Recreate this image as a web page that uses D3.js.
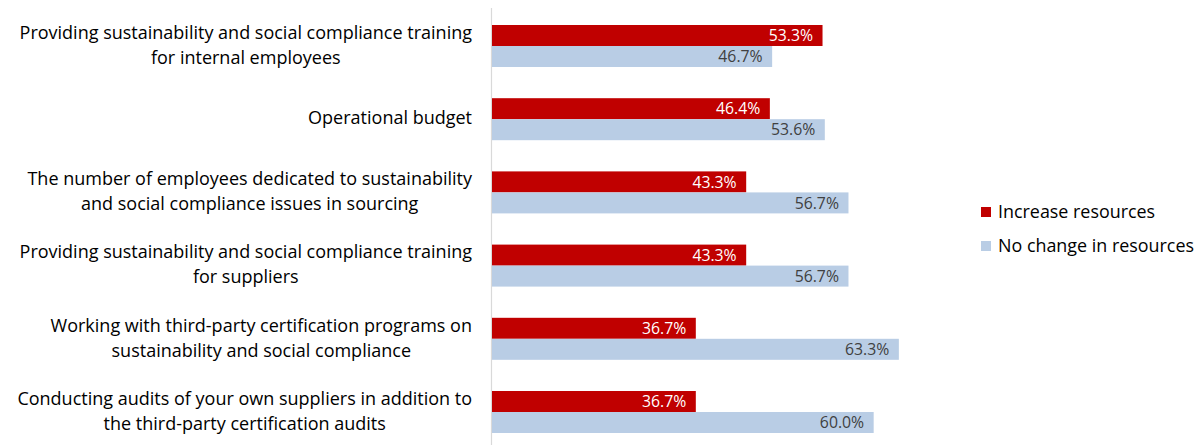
<!DOCTYPE html>
<html><head><meta charset="utf-8">
<script src="https://cdn.jsdelivr.net/npm/d3@7"></script>
<style>body{margin:0;background:#fff;} svg{display:block;}</style>
</head><body>
<svg id="chart" width="1198" height="445"></svg>
<script>
const categories = [
  ["Providing sustainability and social compliance training", "for internal employees"],
  ["Operational budget "],
  ["The number of employees dedicated to sustainability", "and social compliance issues in sourcing"],
  ["Providing sustainability and social compliance training", "for suppliers"],
  ["Working with third-party certification programs on", "sustainability and social compliance"],
  ["Conducting audits of your own suppliers in addition to", "the third-party certification audits"]
];
const seriesNames = ["Increase resources", "No change in resources"];
const increaseValues = [53.3, 46.4, 43.3, 43.3, 36.7, 36.7];
const noChangeValues = [46.7, 53.6, 56.7, 56.7, 63.3, 60.0];
const colors = ["#C00000", "#B9CDE5"];

const svg = d3.select("#chart");
const font = "'Open Sans', sans-serif";

const x = d3.scaleLinear().domain([10, 70]).range([492, 950]);
const y = d3.scaleBand().domain(d3.range(categories.length)).range([9.4, 448.6]).paddingInner(0).paddingOuter(0);
const groupH = 42;
const inner = d3.scaleBand().domain([0, 1]).range([0, groupH]);

svg.append("line").attr("x1", 491.5).attr("x2", 491.5).attr("y1", 8).attr("y2", 445)
  .attr("stroke", "#d9d9d9").attr("stroke-width", 1.2);

const series = [increaseValues, noChangeValues];
series.forEach((vals, si) => {
  const g = svg.append("g");
  vals.forEach((v, i) => {
    const top = y(i) + (y.bandwidth() - groupH) / 2 + inner(si);
    g.append("rect").attr("x", x(10)).attr("y", top)
      .attr("width", x(v) - x(10)).attr("height", inner.bandwidth())
      .attr("fill", colors[si]);
    g.append("text").attr("x", x(v) - 9.5).attr("y", top + inner.bandwidth() / 2)
      .attr("dy", "0.36em").attr("text-anchor", "end")
      .attr("font-family", font).attr("font-size", 15.8)
      .attr("fill", si === 0 ? "#ffffff" : "#404040")
      .text(v.toFixed(1) + "%");
  });
});

const labelRight = 472;
categories.forEach((lines, i) => {
  const cy = y(i) + y.bandwidth() / 2;
  const g = svg.append("g");
  const ts = lines.map((ln, j) => g.append("text")
    .attr("font-family", font).attr("font-size", 18).attr("fill", "#000")
    .attr("text-anchor", "middle")
    .attr("y", cy + (j - (lines.length - 1) / 2) * 25)
    .attr("dy", "0.29em").text(ln));
  const maxW = d3.max(ts, t => t.node().getComputedTextLength());
  ts.forEach(t => t.attr("x", labelRight - maxW / 2));
});

const legendY = [212, 246];
seriesNames.forEach((name, si) => {
  svg.append("rect").attr("x", 981).attr("y", legendY[si] - 5).attr("width", 10).attr("height", 10).attr("fill", colors[si]);
  svg.append("text").attr("x", 998).attr("y", legendY[si]).attr("dy", "0.34em")
    .attr("font-family", font).attr("font-size", 17.9).attr("fill", "#000").text(name);
});
</script>
</body></html>
